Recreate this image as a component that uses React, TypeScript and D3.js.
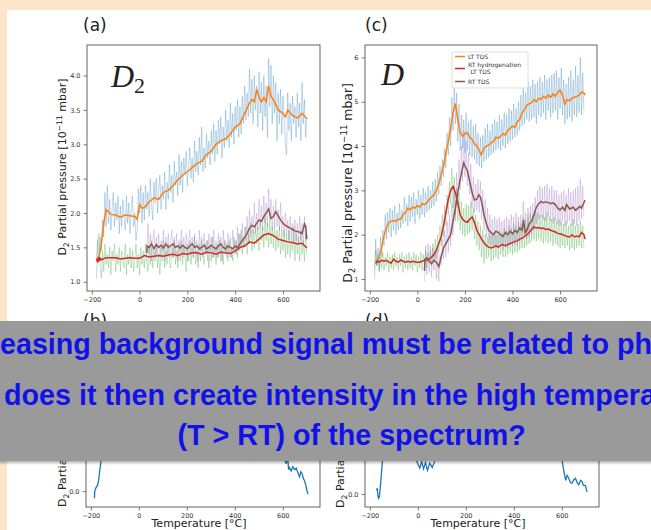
import * as React from "react";
import * as d3 from "d3";

type Pt = [number, number];

// raw (noisy) traces, one reading every 5 °C
const RAW_STEP = 5;
const LT_START = -180;
const RT_START = 30;

const rawLtA = [
  1.05, 1.6, 1.3, 1.65, 1.45, 1.9, 1.65, 2.3, 1.8, 2.4,
  1.85, 2.2, 1.75, 2.05, 2.3, 1.8, 2.15, 1.9, 2.25, 1.7,
  2.1, 1.8, 2.2, 1.95, 1.75, 2.25, 1.85, 2.15, 1.7, 2.05,
  2.25, 1.8, 2.0, 1.6, 1.75, 2.35, 2.0, 2.4, 1.85, 2.3,
  1.9, 2.4, 2.05, 2.3, 1.95, 2.5, 2.1, 1.9, 2.45, 2.15,
  2.5, 2.0, 2.35, 2.55, 2.05, 2.4, 2.2, 2.6, 2.05, 2.45,
  2.2, 2.7, 2.3, 2.55, 2.15, 2.75, 2.4, 2.6, 2.25, 2.85,
  2.4, 2.75, 2.3, 2.8, 2.55, 2.9, 2.4, 2.7, 2.95, 2.5,
  2.8, 2.45, 3.05, 2.6, 2.9, 2.55, 3.1, 2.7, 3.25, 2.6,
  2.95, 2.65, 3.15, 2.8, 3.05, 2.7, 3.2, 2.85, 3.3, 2.75,
  3.2, 2.85, 3.35, 3.0, 3.4, 2.8, 3.25, 2.95, 3.5, 3.05,
  3.35, 2.95, 3.6, 3.1, 3.45, 3.0, 3.55, 3.2, 3.65, 3.1,
  3.55, 3.15, 3.7, 3.3, 3.85, 3.35, 3.75, 3.4, 4.1, 3.45,
  3.95, 3.3, 4.0, 3.5, 3.85, 3.25, 4.05, 3.45, 3.9, 3.2,
  4.0, 3.4, 3.85, 3.1, 4.25, 3.55, 4.15, 3.3, 4.0, 3.45,
  3.9, 3.05, 3.75, 3.3, 3.8, 3.15, 3.7, 3.35, 3.0, 2.85,
  3.75, 3.2, 3.6, 3.05, 3.7, 3.3, 3.55, 3.1, 3.75, 3.25,
  3.6, 3.05, 3.9, 3.3, 3.65, 3.1, 3.4,
];
const rawHydA = [
  1.35, 1.6, 1.7, 1.2, 1.05, 1.45, 1.15, 1.55, 1.25, 1.4,
  1.2, 1.5, 1.1, 1.45, 1.3, 1.55, 1.15, 1.4, 1.25, 1.5,
  1.15, 1.45, 1.3, 1.2, 1.55, 1.1, 1.4, 1.25, 1.5, 1.2,
  1.45, 1.15, 1.35, 1.55, 1.2, 1.4, 1.1, 1.5, 1.25, 1.45,
  1.2, 1.55, 1.3, 1.15, 1.5, 1.25, 1.6, 1.2, 1.45, 1.3,
  1.55, 1.2, 1.4, 1.1, 1.5, 1.3, 1.6, 1.2, 1.45, 1.25,
  1.55, 1.3, 1.2, 1.5, 1.35, 1.6, 1.25, 1.45, 1.2, 1.55,
  1.3, 1.6, 1.25, 1.5, 1.35, 1.15, 1.55, 1.3, 1.6, 1.25,
  1.5, 1.35, 1.65, 1.25, 1.45, 1.2, 1.55, 1.3, 1.6, 1.35,
  1.25, 1.55, 1.4, 1.6, 1.2, 1.5, 1.3, 1.65, 1.35, 1.5,
  1.25, 1.55, 1.35, 1.6, 1.3, 1.5, 1.25, 1.6, 1.4, 1.55,
  1.3, 1.6, 1.35, 1.5, 1.3, 1.65, 1.4, 1.6, 1.35, 1.7,
  1.45, 1.75, 1.4, 1.65, 1.5, 1.8, 1.4, 1.7, 1.55, 1.85,
  1.45, 1.75, 1.5, 1.85, 1.55, 1.8, 1.45, 1.9, 1.6, 1.8,
  1.5, 1.95, 1.6, 1.85, 1.5, 1.9, 1.55, 1.8, 1.5, 1.85,
  1.45, 1.75, 1.5, 1.8, 1.4, 1.7, 1.45, 1.75, 1.35, 1.7,
  1.4, 1.75, 1.35, 1.65, 1.45, 1.8, 1.3, 1.7, 1.4, 1.65,
  1.3, 1.75, 1.4, 1.6, 1.3, 1.7, 1.4,
];
const rawRtA = [
  1.3, 1.85, 1.4, 1.7, 1.3, 1.6, 1.75, 1.35, 1.65, 1.4,
  1.7, 1.35, 1.6, 1.45, 1.75, 1.3, 1.65, 1.4, 1.7, 1.35,
  1.6, 1.75, 1.35, 1.65, 1.4, 1.7, 1.3, 1.6, 1.45, 1.75,
  1.35, 1.65, 1.4, 1.7, 1.3, 1.6, 1.75, 1.4, 1.65, 1.35,
  1.7, 1.4, 1.6, 1.3, 1.75, 1.45, 1.65, 1.35, 1.7, 1.4,
  1.6, 1.3, 1.7, 1.45, 1.65, 1.35, 1.75, 1.4, 1.6, 1.35,
  1.7, 1.4, 1.65, 1.3, 1.75, 1.45, 1.6, 1.35, 1.7, 1.4,
  1.65, 1.35, 1.75, 1.45, 1.6, 1.4, 1.8, 1.45, 1.7, 1.5,
  1.85, 1.5, 1.8, 1.6, 1.95, 1.55, 2.05, 1.65, 1.95, 1.7,
  2.15, 1.7, 2.0, 1.75, 2.2, 1.8, 2.1, 1.75, 2.25, 1.85,
  2.15, 1.8, 2.35, 1.9, 2.2, 1.75, 2.1, 1.85, 2.2, 1.8,
  2.05, 1.75, 2.15, 1.7, 1.95, 1.65, 2.0, 1.7, 1.9, 1.6,
  1.95, 1.65, 1.85, 1.55, 1.9, 1.6, 1.85, 1.55, 1.95, 1.6,
  1.85, 1.55, 1.95, 1.6, 1.85,
];
const rawLtC = [
  1.0, 1.9, 1.3, 1.7, 1.2, 1.95, 1.5, 2.1, 1.75, 2.45,
  1.9, 2.5, 2.05, 2.6, 1.95, 2.55, 2.1, 2.65, 2.0, 2.5,
  2.1, 2.7, 2.15, 2.55, 2.25, 2.85, 2.3, 2.7, 2.2, 2.9,
  2.3, 2.85, 2.4, 2.95, 2.25, 2.8, 2.45, 3.0, 2.35, 2.9,
  2.45, 3.05, 2.4, 2.95, 2.5, 3.1, 2.55, 3.0, 2.6, 3.2,
  2.65, 3.25, 2.75, 3.4, 2.9, 3.55, 3.1, 3.7, 3.3, 3.95,
  3.5, 4.3, 3.8, 4.65, 4.0, 5.1, 4.35, 5.3, 4.5, 5.2,
  4.1, 4.95, 3.9, 4.7, 3.95, 4.6, 3.85, 4.75, 3.9, 4.55,
  3.8, 4.6, 3.75, 4.45, 3.7, 4.5, 3.6, 4.3, 3.55, 4.2,
  3.5, 4.25, 3.65, 4.4, 3.7, 4.5, 3.75, 4.35, 3.8, 4.5,
  3.85, 4.6, 3.9, 4.55, 3.95, 4.7, 3.9, 4.6, 4.0, 4.75,
  3.95, 4.7, 4.05, 4.85, 4.1, 4.8, 4.15, 4.95, 4.2, 4.85,
  4.25, 5.0, 4.35, 5.15, 4.45, 5.3, 4.5, 5.2, 4.6, 5.45,
  4.55, 5.35, 4.6, 5.5, 4.65, 5.4, 4.5, 5.45, 4.7, 5.55,
  4.65, 5.45, 4.75, 5.6, 4.6, 5.5, 4.8, 5.55, 4.65, 5.6,
  4.75, 5.65, 4.8, 5.7, 4.6, 5.55, 4.85, 5.75, 4.7, 5.5,
  4.5, 5.4, 4.6, 5.55, 4.65, 5.7, 4.55, 5.5, 4.7, 5.8,
  4.65, 5.6, 4.75, 6.0, 4.7, 5.65, 4.8,
];
const rawHydC = [
  1.2, 1.65, 1.3, 1.55, 1.15, 1.5, 1.25, 1.6, 1.2, 1.5,
  1.3, 1.6, 1.15, 1.5, 1.25, 1.55, 1.2, 1.6, 1.3, 1.5,
  1.2, 1.55, 1.3, 1.6, 1.15, 1.5, 1.25, 1.55, 1.2, 1.6,
  1.25, 1.5, 1.2, 1.6, 1.3, 1.55, 1.15, 1.5, 1.25, 1.6,
  1.2, 1.55, 1.3, 1.65, 1.25, 1.6, 1.35, 1.75, 1.3, 1.8,
  1.4, 1.9, 1.45, 2.0, 1.6, 2.2, 1.75, 2.45, 1.95, 2.65,
  2.2, 2.9, 2.45, 3.2, 2.7, 3.5, 2.6, 3.3, 2.45, 3.05,
  2.3, 2.95, 2.1, 2.75, 2.0, 2.6, 1.95, 2.7, 2.0, 2.65,
  2.05, 2.75, 2.1, 2.6, 1.9, 2.45, 1.75, 2.3, 1.65, 2.2,
  1.5, 2.1, 1.35, 2.0, 1.45, 1.95, 1.5, 2.05, 1.4, 2.0,
  1.45, 2.05, 1.5, 2.0, 1.45, 2.1, 1.55, 2.05, 1.5, 2.15,
  1.5, 2.1, 1.55, 2.2, 1.6, 2.15, 1.55, 2.25, 1.6, 2.2,
  1.6, 2.3, 1.65, 2.25, 1.7, 2.4, 1.7, 2.35, 1.75, 2.45,
  1.8, 2.5, 1.85, 2.45, 1.9, 2.55, 1.85, 2.5, 1.9, 2.45,
  1.85, 2.45, 1.8, 2.4, 1.85, 2.5, 1.8, 2.4, 1.85, 2.35,
  1.75, 2.4, 1.8, 2.3, 1.75, 2.35, 1.7, 2.3, 1.75, 2.25,
  1.7, 2.3, 1.75, 2.2, 1.65, 2.25, 1.7, 2.35, 1.65, 2.2,
  1.7, 2.25, 1.75, 2.3, 1.7, 2.2, 1.7,
];
const rawRtC = [
  0.95, 1.75, 1.1, 1.8, 1.15, 1.65, 1.05, 1.7, 1.2, 1.6,
  1.0, 1.65, 0.95, 1.55, 1.3, 1.9, 1.45, 2.1, 1.5, 2.3,
  1.6, 2.45, 1.75, 2.7, 2.0, 3.1, 2.3, 3.4, 2.65, 3.7,
  3.0, 4.0, 3.2, 4.35, 3.3, 4.1, 3.1, 3.85, 2.9, 3.6,
  2.6, 3.3, 2.5, 3.15, 2.55, 3.25, 2.5, 3.2, 2.35, 3.0,
  2.1, 2.8, 1.95, 2.6, 1.8, 2.45, 1.75, 2.35, 1.7, 2.4,
  1.75, 2.35, 1.7, 2.4, 1.75, 2.3, 1.65, 2.35, 1.75, 2.4,
  1.7, 2.35, 1.8, 2.45, 1.75, 2.4, 1.8, 2.5, 1.75, 2.4,
  1.85, 2.45, 1.9, 2.75, 1.95, 2.5, 1.9, 2.6, 1.95, 2.65,
  2.0, 2.7, 2.1, 2.85, 2.25, 3.0, 2.35, 3.1, 2.4, 3.05,
  2.35, 3.1, 2.3, 3.15, 2.4, 3.05, 2.3, 3.1, 2.25, 3.0,
  2.3, 3.0, 2.25, 2.9, 2.2, 2.95, 2.3, 3.0, 2.2, 2.9,
  2.25, 3.05, 2.3, 2.95, 2.2, 3.0, 2.25, 3.05, 2.2, 3.1,
  2.3, 3.25, 2.35, 3.1, 2.4,
];

// smoothed curves [°C, 10^-11 mbar]
const ltA: Pt[] = [
  [-180, 1.33], [-170, 1.36], [-160, 1.55], [-150, 1.85], [-140, 2.05], [-130, 2.02], [-120, 1.98],
  [-100, 1.97], [-80, 1.94], [-60, 1.97], [-40, 1.96], [-20, 1.95], [-10, 1.91], [0, 2.12], [10, 2.07],
  [20, 2.08], [40, 2.16], [60, 2.22], [80, 2.2], [100, 2.3], [120, 2.33], [140, 2.4], [160, 2.48],
  [180, 2.55], [200, 2.6], [220, 2.66], [240, 2.72], [260, 2.75], [280, 2.85], [300, 2.9], [320, 3.0],
  [340, 3.05], [360, 3.08], [380, 3.15], [400, 3.25], [420, 3.3], [440, 3.45], [460, 3.6], [470, 3.65],
  [480, 3.62], [490, 3.8], [500, 3.68], [510, 3.62], [520, 3.68], [530, 3.62], [540, 3.85], [550, 3.7],
  [560, 3.65], [580, 3.5], [600, 3.45], [610, 3.4], [620, 3.5], [640, 3.42], [660, 3.38], [680, 3.45],
  [700, 3.37],
];
const hydA: Pt[] = [
  [-180, 1.33], [-175, 1.28], [-172, 1.36], [-168, 1.3], [-165, 1.34], [-160, 1.32], [-140, 1.35],
  [-120, 1.35], [-100, 1.35], [-80, 1.33], [-60, 1.34], [-40, 1.35], [-20, 1.34], [0, 1.34], [20, 1.38],
  [40, 1.36], [60, 1.37], [80, 1.38], [100, 1.37], [120, 1.39], [140, 1.4], [160, 1.38], [180, 1.41],
  [200, 1.4], [220, 1.42], [240, 1.42], [260, 1.4], [280, 1.43], [300, 1.42], [320, 1.4], [340, 1.43],
  [360, 1.42], [380, 1.41], [400, 1.45], [420, 1.5], [440, 1.52], [460, 1.58], [480, 1.56], [500, 1.62],
  [520, 1.68], [540, 1.7], [560, 1.67], [580, 1.62], [600, 1.6], [620, 1.58], [640, 1.57], [660, 1.55],
  [680, 1.56], [700, 1.49],
];
const rtA: Pt[] = [
  [30, 1.42], [32, 1.52], [40, 1.5], [50, 1.55], [60, 1.48], [70, 1.54], [80, 1.5], [90, 1.53],
  [100, 1.49], [110, 1.55], [120, 1.5], [130, 1.52], [140, 1.55], [150, 1.5], [160, 1.52], [170, 1.49],
  [180, 1.53], [190, 1.5], [200, 1.48], [210, 1.52], [220, 1.55], [230, 1.5], [240, 1.52], [250, 1.48],
  [260, 1.5], [270, 1.53], [280, 1.48], [290, 1.5], [300, 1.53], [310, 1.5], [320, 1.48], [330, 1.52],
  [340, 1.55], [350, 1.5], [360, 1.48], [370, 1.52], [380, 1.5], [390, 1.48], [400, 1.52], [410, 1.5],
  [420, 1.55], [430, 1.6], [440, 1.65], [450, 1.7], [460, 1.78], [470, 1.82], [480, 1.8], [490, 1.85],
  [500, 1.9], [510, 1.88], [520, 1.95], [530, 2.0], [540, 2.06], [550, 1.92], [560, 1.95], [570, 2.02],
  [580, 1.96], [590, 1.9], [600, 1.85], [610, 1.82], [620, 1.8], [630, 1.78], [640, 1.76], [650, 1.74],
  [660, 1.73], [670, 1.72], [680, 1.7], [690, 1.84], [695, 1.8], [700, 1.62],
];
const ltC: Pt[] = [
  [-175, 1.42], [-170, 1.38], [-160, 1.5], [-150, 1.72], [-140, 1.98], [-130, 2.15], [-120, 2.28],
  [-110, 2.3], [-100, 2.32], [-90, 2.3], [-80, 2.35], [-70, 2.35], [-60, 2.45], [-50, 2.5], [-40, 2.6],
  [-30, 2.56], [-20, 2.62], [-10, 2.6], [0, 2.66], [10, 2.62], [20, 2.7], [30, 2.68], [40, 2.72],
  [50, 2.8], [60, 2.85], [70, 2.9], [80, 3.0], [90, 3.15], [100, 3.35], [110, 3.55], [120, 3.85],
  [130, 4.1], [140, 4.4], [150, 4.75], [160, 4.96], [170, 4.6], [180, 4.3], [190, 4.22], [200, 4.28],
  [210, 4.3], [220, 4.2], [230, 4.15], [240, 4.05], [250, 4.0], [260, 3.9], [268, 3.8], [280, 3.95],
  [290, 4.0], [300, 4.02], [310, 4.08], [320, 4.1], [330, 4.2], [340, 4.18], [350, 4.22], [360, 4.28],
  [370, 4.25], [380, 4.35], [390, 4.4], [400, 4.45], [410, 4.42], [420, 4.55], [430, 4.6], [440, 4.75],
  [450, 4.82], [460, 4.92], [470, 4.95], [480, 4.98], [490, 5.05], [500, 5.0], [510, 5.08], [520, 5.05],
  [530, 5.12], [540, 5.08], [550, 5.15], [560, 5.1], [570, 5.18], [580, 5.12], [590, 5.22], [600, 5.26],
  [610, 5.15], [620, 4.95], [630, 5.05], [640, 5.02], [650, 5.08], [660, 5.1], [670, 5.12], [680, 5.15],
  [690, 5.22], [700, 5.2], [705, 5.15],
];
const hydC: Pt[] = [
  [-175, 1.35], [-170, 1.4], [-160, 1.38], [-150, 1.42], [-140, 1.4], [-130, 1.42], [-120, 1.38],
  [-110, 1.36], [-100, 1.45], [-90, 1.4], [-80, 1.38], [-70, 1.43], [-60, 1.4], [-50, 1.38], [-40, 1.4],
  [-30, 1.38], [-20, 1.4], [-10, 1.39], [0, 1.38], [10, 1.38], [20, 1.4], [30, 1.42], [40, 1.43],
  [50, 1.45], [60, 1.5], [70, 1.55], [80, 1.65], [90, 1.8], [100, 1.95], [110, 2.2], [120, 2.5],
  [130, 2.8], [140, 3.0], [150, 3.09], [160, 2.95], [170, 2.72], [180, 2.45], [190, 2.35], [200, 2.3],
  [210, 2.28], [220, 2.35], [230, 2.4], [240, 2.28], [250, 2.1], [260, 2.0], [270, 1.9], [280, 1.82],
  [290, 1.76], [300, 1.72], [310, 1.7], [320, 1.72], [330, 1.75], [340, 1.72], [350, 1.76], [360, 1.78],
  [370, 1.75], [380, 1.78], [390, 1.8], [400, 1.82], [410, 1.85], [420, 1.86], [430, 1.9], [440, 1.92],
  [450, 1.96], [460, 2.0], [470, 2.05], [480, 2.12], [490, 2.18], [500, 2.15], [510, 2.16], [520, 2.14],
  [530, 2.15], [540, 2.12], [550, 2.13], [560, 2.1], [570, 2.08], [580, 2.06], [590, 2.03], [600, 2.02],
  [610, 2.0], [620, 1.98], [630, 1.96], [640, 1.95], [650, 2.0], [660, 1.95], [670, 1.97], [680, 1.95],
  [690, 2.05], [700, 2.0], [705, 1.9],
];
const rtC: Pt[] = [
  [30, 1.18], [32, 1.45], [40, 1.48], [50, 1.4], [60, 1.35], [70, 1.42], [80, 1.38], [90, 1.28],
  [100, 1.5], [110, 1.7], [120, 1.8], [130, 1.9], [140, 2.0], [150, 2.3], [160, 2.6], [170, 2.95],
  [180, 3.25], [190, 3.5], [195, 3.62], [200, 3.55], [210, 3.45], [220, 3.2], [230, 2.95], [240, 2.78],
  [250, 2.8], [258, 2.9], [265, 2.85], [272, 2.7], [280, 2.45], [290, 2.25], [300, 2.1], [310, 2.05],
  [320, 2.0], [330, 2.08], [340, 2.05], [350, 2.0], [360, 1.96], [370, 2.05], [380, 2.0], [390, 2.08],
  [400, 2.02], [410, 2.1], [420, 2.05], [430, 2.15], [440, 2.1], [446, 2.33], [453, 2.05], [460, 2.1],
  [470, 2.25], [480, 2.3], [490, 2.45], [500, 2.62], [510, 2.7], [520, 2.75], [530, 2.72], [540, 2.74],
  [550, 2.73], [560, 2.7], [570, 2.72], [580, 2.68], [590, 2.6], [600, 2.56], [610, 2.62], [620, 2.55],
  [627, 2.68], [640, 2.58], [655, 2.62], [665, 2.55], [683, 2.64], [690, 2.6], [700, 2.72], [705, 2.78],
];

// lower panels (mostly hidden behind the banner)
const diffB: Pt[] = [
  [-185, -0.1], [-183, 0.01], [-178, 0.05], [-172, 0.08], [-168, 0.14], [-164, 0.25], [-157, 0.43],
  [-150, 0.75], [-140, 1.1], [-120, 1.3], [-80, 1.2], [0, 1.0], [200, 1.1], [400, 1.2], [560, 1.0],
  [600, 0.6], [608, 0.45], [614, 0.38], [620, 0.5], [624, 0.3], [628, 0.33], [635, 0.28], [642, 0.34],
  [650, 0.3], [656, 0.32], [664, 0.25], [670, 0.2], [675, 0.27], [680, 0.25], [686, 0.17], [690, 0.15],
  [696, 0.08], [700, 0.02], [705, -0.04],
];
const diffD: Pt[] = [
  [-172, 0.05], [-169, 0.08], [-166, -0.02], [-164, -0.06], [-160, -0.04], [-156, 0.1], [-150, 0.35],
  [-146, 0.5], [-140, 0.9], [-120, 1.3], [-60, 1.1], [-20, 0.8], [-10, 0.5], [0, 0.42], [8, 0.36],
  [16, 0.45], [24, 0.35], [32, 0.44], [40, 0.33], [50, 0.43], [60, 0.37], [70, 0.45], [80, 0.7],
  [150, 1.5], [300, 1.2], [500, 1.0], [590, 0.8], [601, 0.47], [609, 0.31], [616, 0.19], [622, 0.26],
  [629, 0.22], [636, 0.16], [643, 0.15], [650, 0.2], [657, 0.22], [664, 0.16], [671, 0.13], [678, 0.19],
  [684, 0.18], [690, 0.12], [698, 0.12], [705, 0.03],
];

const xTicks = [-200, 0, 200, 400, 600];
const xMinorTicks = [-150, -100, -50, 50, 100, 150, 250, 300, 350, 450, 500, 550, 650, 700, 750];
const yTicksA = [1.0, 1.5, 2.0, 2.5, 3.0, 3.5, 4.0];
const yTicksC = [1, 2, 3, 4, 5, 6];
const yTicksLow = [0.0, 0.5, 1.0, 1.5, 2.0];
const legendLabels = [["LT TDS"], ["RT hydrogenation", " LT TDS"], ["RT TDS"]];
const bannerLines = [
  "easing background signal must be related to ph",
  "does it then create intensity in the high tempera",
  "(T > RT) of the spectrum?",
];

const C = {
  blue: "#1f77b4", orange: "#ff7f0e", green: "#2ca02c",
  red: "#d62728", purple: "#9467bd", brown: "#8c564b",
};
const SANS = "'DejaVu Sans', sans-serif";

const toPts = (vals: number[], start: number): Pt[] =>
  vals.map((v, i) => [start + i * RAW_STEP, v] as Pt);

function drawAxes(g: any, x: any, y: any, yTicks: number[], yMinor: number[], fmt: (v: number) => string, fs: number) {
  const [x0, x1] = x.range();
  const [yb, yt] = y.range();
  const tc = "#444";

  const ax = g.append("g").attr("transform", `translate(0,${yb})`);
  ax.call(d3.axisBottom(x).tickValues(xMinorTicks).tickSize(2).tickFormat(() => ""));
  ax.call(d3.axisBottom(x).tickValues(xTicks).tickSize(3.5).tickPadding(3).tickFormat(d3.format("d") as any));
  const ay = g.append("g").attr("transform", `translate(${x0},0)`);
  ay.call(d3.axisLeft(y).tickValues(yMinor).tickSize(2).tickFormat(() => ""));
  ay.call(d3.axisLeft(y).tickValues(yTicks).tickSize(3.5).tickPadding(3).tickFormat(fmt as any));

  [ax, ay].forEach((a: any) => {
    a.selectAll(".domain").remove();
    a.selectAll("line").attr("stroke", tc).attr("stroke-width", 0.7);
    a.selectAll("text").attr("fill", "#333").style("font-family", SANS).style("font-size", `${fs}px`);
  });

  g.append("rect")
    .attr("x", x0).attr("y", yt).attr("width", x1 - x0).attr("height", yb - yt)
    .attr("fill", "none").attr("stroke", "#555").attr("stroke-width", 0.9);
}

function yLabel(g: any, x: number, y: number, fs: number, anchor: string) {
  const t = g.append("text")
    .attr("transform", `translate(${x},${y}) rotate(-90)`)
    .attr("text-anchor", anchor)
    .attr("fill", "#222")
    .style("font-family", SANS)
    .style("font-size", `${fs}px`);
  t.append("tspan").text("D");
  t.append("tspan").attr("dy", fs * 0.28).style("font-size", `${fs * 0.7}px`).text("2");
  t.append("tspan").attr("dy", -fs * 0.28).text(" Partial pressure [10");
  t.append("tspan").attr("dy", -fs * 0.38).style("font-size", `${fs * 0.7}px`).text("\u221211");
  t.append("tspan").attr("dy", fs * 0.38).text(" mbar]");
}

function xLabel(g: any, x: number, y: number) {
  g.append("text").attr("x", x).attr("y", y).attr("text-anchor", "middle")
    .attr("fill", "#222").style("font-family", SANS).style("font-size", "11px")
    .text("Temperature [\u00b0C]");
}

function panelTag(g: any, x: number, y: number, s: string) {
  g.append("text").attr("x", x).attr("y", y).attr("fill", "#222")
    .style("font-family", SANS).style("font-size", "17px").text(s);
}

function rawPath(g: any, l: any, vals: number[], start: number, color: string) {
  g.append("path").attr("d", l(toPts(vals, start))).attr("fill", "none")
    .attr("stroke", color).attr("stroke-opacity", 0.32).attr("stroke-width", 0.9);
}

function smoothPath(g: any, l: any, pts: Pt[], color: string) {
  g.append("path").attr("d", l(pts)).attr("fill", "none").attr("stroke", color).attr("stroke-width", 1.5);
}

const App: React.FC = () => {
  const svgRef = React.useRef<SVGSVGElement | null>(null);

  React.useEffect(() => {
    if (!svgRef.current) return;
    const svg = d3.select(svgRef.current);
    svg.selectAll("*").remove();

    svg.append("rect").attr("width", 651).attr("height", 530).attr("fill", "#fde5c9");
    svg.append("rect").attr("x", 7).attr("y", 10).attr("width", 644).attr("height", 520).attr("fill", "#ffffff");

    const line = (x: any, y: any) => d3.line<Pt>().x(d => x(d[0])).y(d => y(d[1]));

    // ---------- (a) D2 ----------
    const xA = d3.scaleLinear().domain([-220, 755]).range([87, 320]);
    const yA = d3.scaleLinear().domain([0.865, 4.445]).range([291, 45]);
    const gA = svg.append("g");
    const lA = line(xA, yA);
    rawPath(gA, lA, rawLtA, LT_START, C.blue);
    rawPath(gA, lA, rawHydA, LT_START, C.green);
    rawPath(gA, lA, rawRtA, RT_START, C.purple);
    smoothPath(gA, lA, ltA, C.orange);
    smoothPath(gA, lA, hydA, C.red);
    smoothPath(gA, lA, rtA, C.brown);
    drawAxes(gA, xA, yA, yTicksA, d3.range(0.9, 4.45, 0.1), d3.format(".1f"), 6.5);
    yLabel(gA, 66, 167, 11, "middle");
    panelTag(gA, 83, 31, "(a)");
    const dA = gA.append("text").attr("x", 111).attr("y", 87)
      .style("font-family", "'Liberation Serif', serif").attr("fill", "#222");
    dA.append("tspan").style("font-style", "italic").style("font-size", "32px").text("D");
    dA.append("tspan").attr("dy", 6).style("font-size", "22px").text("2");

    // ---------- (c) D ----------
    const xC = d3.scaleLinear().domain([-220, 755]).range([365, 597]);
    const yC = d3.scaleLinear().domain([0.73, 6.28]).range([291, 45]);
    const gC = svg.append("g");
    const lC = line(xC, yC);
    rawPath(gC, lC, rawLtC, LT_START, C.blue);
    rawPath(gC, lC, rawHydC, LT_START, C.green);
    rawPath(gC, lC, rawRtC, RT_START, C.purple);
    smoothPath(gC, lC, ltC, C.orange);
    smoothPath(gC, lC, hydC, C.red);
    smoothPath(gC, lC, rtC, C.brown);
    drawAxes(gC, xC, yC, yTicksC, d3.range(0.8, 6.25, 0.2), d3.format("d"), 6.5);
    yLabel(gC, 352, 183, 12.4, "middle");
    panelTag(gC, 365, 31, "(c)");
    gC.append("text").attr("x", 381).attr("y", 85)
      .style("font-family", "'Liberation Serif', serif").style("font-style", "italic")
      .style("font-size", "32px").attr("fill", "#222").text("D");

    // legend
    const leg = gC.append("g");
    leg.append("rect").attr("x", 452).attr("y", 52).attr("width", 76).attr("height", 36)
      .attr("rx", 1.5).attr("fill", "#fff").attr("stroke", "#d0d0d0").attr("stroke-width", 0.7);
    const legColors = [C.orange, C.red, C.brown];
    const legY = [56.5, 68.5, 81.5];
    legendLabels.forEach((lines, i) => {
      leg.append("line").attr("x1", 455).attr("x2", 465).attr("y1", legY[i]).attr("y2", legY[i])
        .attr("stroke", legColors[i]).attr("stroke-width", 1.5);
      lines.forEach((s, j) => {
        const base = legY[i] + 2 - (lines.length - 1) * 3.5 + j * 7;
        leg.append("text").attr("x", 468 + (s.startsWith(" ") ? 2.5 : 0)).attr("y", base)
          .attr("fill", "#333").style("font-family", SANS).style("font-size", "6px").text(s.trim());
      });
    });

    // ---------- (b) and (d), lower panels ----------
    const xB = d3.scaleLinear().domain([-220, 755]).range([86, 320]);
    const yB = d3.scaleLinear().domain([-0.22, 2.2]).range([507, 333]);
    const gB = svg.append("g");
    gB.append("path").attr("d", line(xB, yB)(diffB)).attr("fill", "none").attr("stroke", C.blue).attr("stroke-width", 1.3);
    drawAxes(gB, xB, yB, yTicksLow, d3.range(-0.2, 2.2, 0.1), d3.format(".1f"), 6.5);
    yLabel(gB, 66, 507, 11, "start");
    xLabel(gB, 199, 527);
    panelTag(gB, 83, 327, "(b)");

    const xD = d3.scaleLinear().domain([-220, 755]).range([365, 599]);
    const yD = d3.scaleLinear().domain([-0.18, 2.24]).range([507, 333]);
    const gD = svg.append("g");
    gD.append("path").attr("d", line(xD, yD)(diffD)).attr("fill", "none").attr("stroke", C.blue).attr("stroke-width", 1.3);
    drawAxes(gD, xD, yD, yTicksLow, d3.range(-0.1, 2.2, 0.1), d3.format(".1f"), 6.5);
    yLabel(gD, 344, 508, 11, "start");
    xLabel(gD, 478, 527);
    panelTag(gD, 365, 327, "(d)");

    // ---------- overlay banner ----------
    const defs = svg.append("defs");
    const grad = defs.append("linearGradient").attr("id", "shadow").attr("x1", 0).attr("y1", 0).attr("x2", 0).attr("y2", 1);
    grad.append("stop").attr("offset", "0%").attr("stop-color", "#000").attr("stop-opacity", 0.3);
    grad.append("stop").attr("offset", "100%").attr("stop-color", "#000").attr("stop-opacity", 0);
    svg.append("rect").attr("x", 0).attr("y", 461).attr("width", 651).attr("height", 4).attr("fill", "url(#shadow)");
    svg.append("rect").attr("x", 0).attr("y", 321).attr("width", 651).attr("height", 140).attr("fill", "#9a9a9a");

    const bx = [0, 4, 351.7];
    const by = [354, 405, 445];
    const anchor = ["start", "start", "middle"];
    bannerLines.forEach((s, i) => {
      svg.append("text").attr("x", bx[i]).attr("y", by[i]).attr("text-anchor", anchor[i])
        .attr("fill", "#1212e8")
        .style("font-family", "'Liberation Sans', Arial, sans-serif")
        .style("font-weight", "bold").style("font-size", "28.7px")
        .text(s);
    });
  }, []);

  return <svg ref={svgRef} width={651} height={530} style={{ position: "absolute", left: 0, top: 0 }} />;
};

export default App;
